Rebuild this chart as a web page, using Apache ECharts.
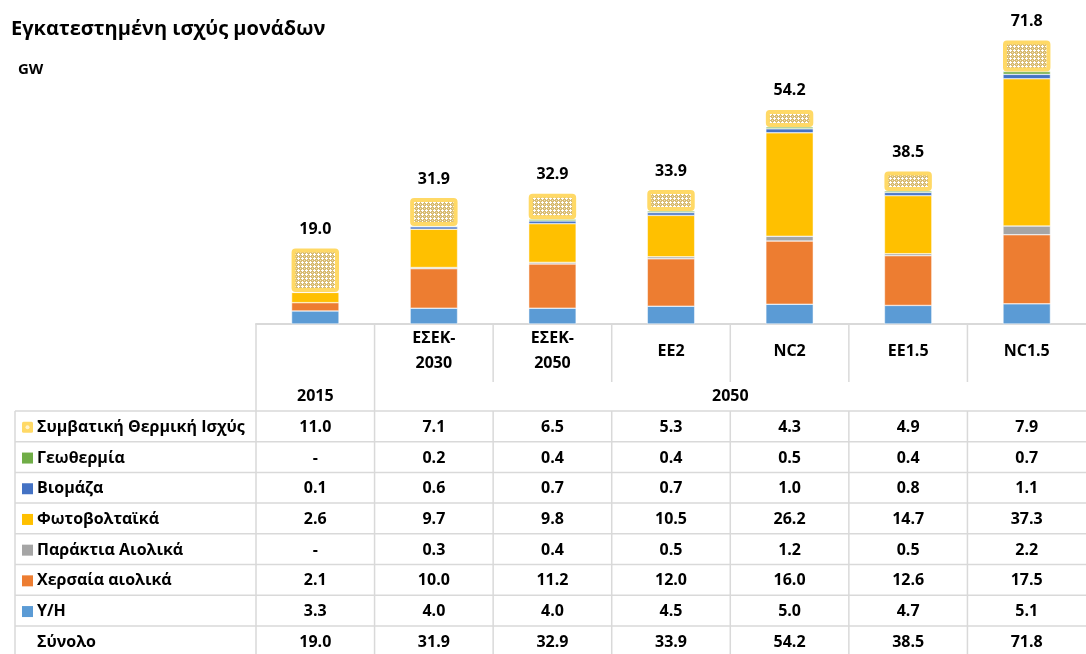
<!DOCTYPE html>
<html>
<head>
<meta charset="utf-8">
<script src="https://cdn.jsdelivr.net/npm/echarts@6/dist/echarts.min.js"></script>
<style>
  html, body { margin: 0; padding: 0; background: #fff; }
  #main { width: 1086px; height: 654px; }
</style>
</head>
<body>
<div id="main"></div>
<script>
// scenario columns (header label per column) and the year groups under them
const categories = ['2015', 'ΕΣΕΚ-2030', 'ΕΣΕΚ-2050', 'EE2', 'NC2', 'EE1.5', 'NC1.5'];
const headerNames = ['', 'ΕΣΕΚ-\n2030', 'ΕΣΕΚ-\n2050', 'EE2', 'NC2', 'EE1.5', 'NC1.5'];
const yearGroups = [
    { label: '2015', from: 0, to: 0 },
    { label: '2050', from: 1, to: 6 }
];

// GW per technology (null = no value, shown as '-')
const hydro = [3.3, 4.0, 4.0, 4.5, 5.0, 4.7, 5.1];
const onshoreWind = [2.1, 10.0, 11.2, 12.0, 16.0, 12.6, 17.5];
const offshoreWind = [null, 0.3, 0.4, 0.5, 1.2, 0.5, 2.2];
const solarPv = [2.6, 9.7, 9.8, 10.5, 26.2, 14.7, 37.3];
const biomass = [0.1, 0.6, 0.7, 0.7, 1.0, 0.8, 1.1];
const geothermal = [null, 0.2, 0.4, 0.4, 0.5, 0.4, 0.7];
const thermal = [11.0, 7.1, 6.5, 5.3, 4.3, 4.9, 7.9];
const totals = [19.0, 31.9, 32.9, 33.9, 54.2, 38.5, 71.8];

const FONT = "'Open Sans', 'Noto Sans', sans-serif";
const GRID_LINE = '#d9d9d9';

// hatch fill used by the thermal segment (white crosses on tan)
function makePattern() {
    const c = document.createElement('canvas');
    c.width = 4;
    c.height = 4;
    const ctx = c.getContext('2d');
    ctx.fillStyle = '#d8bb72';
    ctx.fillRect(0, 0, 4, 4);
    ctx.fillStyle = '#ffffff';
    ctx.fillRect(1, 2, 3, 1);
    ctx.fillRect(2, 1, 1, 3);
    ctx.fillStyle = '#ece0bd';
    ctx.fillRect(0, 0, 1, 1);
    return c;
}
const thermalFill = { image: makePattern(), repeat: 'repeat' };

// stack order bottom -> top
const stack = [
    { name: 'Υ/Η', data: hydro, color: '#5b9bd5' },
    { name: 'Χερσαία αιολικά', data: onshoreWind, color: '#ed7d31' },
    { name: 'Παράκτια Αιολικά', data: offshoreWind, color: '#a5a5a5' },
    { name: 'Φωτοβολταϊκά', data: solarPv, color: '#ffc000' },
    { name: 'Βιομάζα', data: biomass, color: '#4472c4' },
    { name: 'Γεωθερμία', data: geothermal, color: '#70ad47' },
    { name: 'Συμβατική Θερμική Ισχύς', data: thermal, color: thermalFill, thermal: true }
];

// table rows top -> bottom
const tableRows = stack.slice().reverse().concat([{ name: 'Σύνολο', data: totals, noSymbol: true }]);

const chart = echarts.init(document.getElementById('main'));

const series = stack.map(s => {
    const item = {
        name: s.name,
        type: 'bar',
        stack: 'cap',
        barWidth: '40%',
        data: s.data,
        itemStyle: s.thermal
            ? { color: s.color, borderColor: '#ffd966', borderWidth: 4, borderRadius: 2 }
            : { color: s.color, borderColor: '#ffffff', borderWidth: 0.5 }
    };
    if (s.thermal) {
        item.label = {
            show: true,
            position: 'top',
            distance: 11,
            fontFamily: FONT,
            fontWeight: 'bold',
            fontSize: 16,
            color: '#000',
            formatter: p => totals[p.dataIndex].toFixed(1)
        };
    }
    return item;
});

chart.setOption({
    animation: false,
    grid: { left: 256, top: 8, width: 838, height: 316 },
    xAxis: {
        type: 'category',
        data: categories,
        axisLine: { lineStyle: { color: GRID_LINE, width: 2 } },
        axisTick: { show: false },
        axisLabel: { show: false }
    },
    yAxis: {
        type: 'value',
        min: 0,
        max: 80,
        show: false,
        splitLine: { show: false }
    },
    title: [
        { text: 'Εγκατεστημένη ισχύς μονάδων', left: 6, top: 14, textStyle: { fontFamily: FONT, fontWeight: 'bold', fontSize: 20, color: '#000' } },
        { text: 'GW', left: 13, top: 57, textStyle: { fontFamily: FONT, fontWeight: 'bold', fontSize: 15, color: '#000' } }
    ],
    series: series
});

// data table under the bars, columns placed with the category axis
function buildTable() {
    const xs = categories.map((c, i) => chart.convertToPixel({ xAxisIndex: 0 }, i));
    const band = xs[1] - xs[0];
    const colL = i => xs[i] - band / 2;
    const colR = i => xs[i] + band / 2;
    const tableLeft = 15;
    const labelRight = colL(0);
    const right = colR(categories.length - 1);
    const axisY = chart.convertToPixel({ yAxisIndex: 0 }, 0);
    const headBottom = 382;
    const yearBottom = 411;
    const rowH = 30.7;
    const bottom = 660;

    const els = [];
    const line = (x1, y1, x2, y2) => els.push({
        type: 'line', shape: { x1, y1, x2, y2 }, style: { stroke: GRID_LINE, lineWidth: 1.5 }, silent: true
    });
    const text = (str, x, y, align) => els.push({
        type: 'text', x, y,
        style: {
            text: str, fill: '#000', font: 'bold 16px ' + FONT,
            align: align || 'center', verticalAlign: 'middle', lineHeight: 25
        },
        silent: true
    });

    // horizontal rules
    line(tableLeft, yearBottom, right, yearBottom);
    tableRows.forEach((r, k) => {
        if (k > 0) line(tableLeft, yearBottom + k * rowH, right, yearBottom + k * rowH);
    });

    // vertical rules
    line(tableLeft, yearBottom, tableLeft, bottom);
    line(labelRight, axisY, labelRight, bottom);
    categories.forEach((c, i) => {
        const x = colR(i);
        if (i === categories.length - 1) return;
        const groupEdge = yearGroups.some(g => g.to === i);
        if (groupEdge) {
            line(x, axisY, x, bottom);
        } else {
            line(x, axisY, x, headBottom);
            line(x, yearBottom, x, bottom);
        }
    });

    // header: scenario names
    headerNames.forEach((n, i) => {
        if (n) text(n, xs[i], 351);
    });
    // header: year groups
    yearGroups.forEach(g => {
        text(g.label, (colL(g.from) + colR(g.to)) / 2, 396);
    });

    // body rows
    tableRows.forEach((r, k) => {
        const cy = yearBottom + k * rowH + rowH / 2 + 1;
        if (!r.noSymbol) {
            if (typeof r.color === 'string') {
                els.push({ type: 'rect', shape: { x: 22, y: cy - 5.5, width: 11, height: 11 }, style: { fill: r.color }, silent: true });
            } else {
                els.push({ type: 'rect', shape: { x: 22, y: cy - 5.5, width: 11, height: 11, r: 1.5 }, style: { fill: '#ffd966' }, silent: true });
                els.push({ type: 'circle', shape: { cx: 27.5, cy: cy, r: 2 }, style: { fill: '#fff3cf' }, silent: true });
            }
        }
        text(r.name, 37, cy, 'left');
        r.data.forEach((v, i) => {
            text(v == null ? '-' : v.toFixed(1), xs[i], cy);
        });
    });

    chart.setOption({ graphic: { elements: els } });
}
buildTable();
</script>
</body>
</html>
